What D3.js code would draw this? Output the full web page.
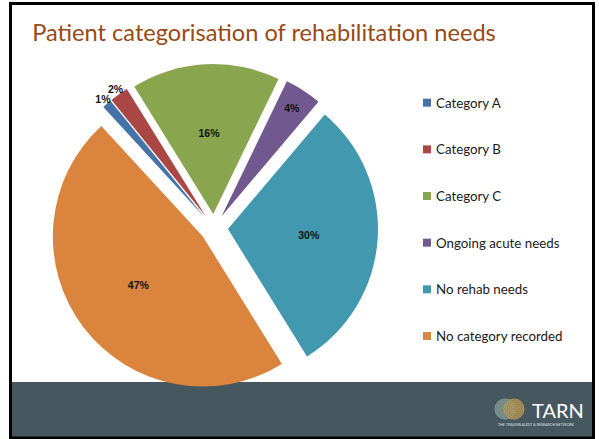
<!DOCTYPE html>
<html>
<head>
<meta charset="utf-8">
<script src="https://cdn.jsdelivr.net/npm/d3@7"></script>
<style>
  html, body { margin: 0; padding: 0; background: #ffffff; }
  svg { display: block; }
</style>
</head>
<body>
<svg id="chart" width="599" height="439"></svg>
<script>
const categories = ["Category A", "Category B", "Category C", "Ongoing acute needs", "No rehab needs", "No category recorded"];
const values = [1, 2, 16, 4, 30, 47];
const colors = ["#4572A7", "#AA4643", "#89A54E", "#71588F", "#4198AF", "#DB843D"];
const titleText = "Patient categorisation of rehabilitation needs";

const W = 599, H = 439;
const svg = d3.select("#chart");
const font = "Lato, 'Open Sans', 'Liberation Sans', sans-serif";

// slide background
svg.append("rect").attr("x", 0).attr("y", 0).attr("width", W).attr("height", H).attr("fill", "#ffffff");

// footer band
const footer = svg.append("g");
footer.append("rect").attr("x", 10.5).attr("y", 382).attr("width", 583).attr("height", 55).attr("fill", "#46575F");

// logo
const logo = footer.append("g");
const ringsL = [10, 8, 6, 4, 2];
logo.append("circle").attr("cx", 505).attr("cy", 409).attr("r", 10.5).attr("fill", "#6E8584");
logo.append("circle").attr("cx", 514).attr("cy", 409).attr("r", 10.5).attr("fill", "#9C8448").attr("opacity", 0.9);
ringsL.forEach(rr => {
  logo.append("circle").attr("cx", 505).attr("cy", 409).attr("r", rr).attr("fill", "none").attr("stroke", "#9fb3ae").attr("stroke-width", 0.5).attr("opacity", 0.7);
  logo.append("circle").attr("cx", 514).attr("cy", 409).attr("r", rr).attr("fill", "none").attr("stroke", "#d9bf77").attr("stroke-width", 0.5).attr("opacity", 0.7);
});
logo.append("text").attr("x", 532).attr("y", 417.5).attr("fill", "#ffffff")
  .attr("font-family", font).attr("font-size", 20).text("TARN");
logo.append("text").attr("x", 536).attr("y", 426).attr("fill", "#dfe5e6").attr("text-anchor", "middle")
  .attr("font-family", font).attr("font-size", 3.6).text("THE TRAUMA AUDIT & RESEARCH NETWORK");

// title
const title = svg.append("text").attr("x", 264).attr("y", 41).attr("text-anchor", "middle")
  .attr("fill", "#9A4A14").attr("font-family", font).attr("font-size", 26).text(titleText);
const tw = title.node().getComputedTextLength();
title.attr("font-size", 26 * 464 / tw);

// pie
const cx = 214, cy = 228, radius = 150, explode = 14;
const startDeg = -42.6;
const pie = d3.pie().sort(null)
  .startAngle(startDeg * Math.PI / 180)
  .endAngle(startDeg * Math.PI / 180 + 2 * Math.PI);
const arcs = pie(values);
const arc = d3.arc().innerRadius(0).outerRadius(radius);

const pg = svg.append("g").attr("transform", `translate(${cx},${cy})`);
const slices = pg.selectAll("g.slice").data(arcs).enter().append("g").attr("class", "slice")
  .attr("transform", d => {
    const a = (d.startAngle + d.endAngle) / 2;
    return `translate(${explode * Math.sin(a)},${-explode * Math.cos(a)})`;
  });
slices.append("path").attr("d", arc).attr("fill", (d, i) => colors[i]);

// labels
const total = d3.sum(values);
function labelRadius(v) {
  const p = v / total * 100;
  if (p < 3) return radius + explode + 6;
  if (p < 10) return radius * 0.86 + explode;
  return radius * 0.54 + explode;
}
pg.selectAll("text.lbl").data(arcs).enter().append("text").attr("class", "lbl")
  .attr("x", d => labelRadius(d.data) * Math.sin((d.startAngle + d.endAngle) / 2))
  .attr("y", d => -labelRadius(d.data) * Math.cos((d.startAngle + d.endAngle) / 2))
  .attr("text-anchor", "middle").attr("dominant-baseline", "central")
  .attr("font-family", "'Liberation Sans', Arial, sans-serif").attr("font-weight", "bold")
  .attr("font-size", 10.5).attr("fill", "#111111")
  .text(d => Math.round(d.data / total * 100) + "%");

// legend
const legY = d3.scalePoint().domain(categories).range([102.7, 336]);
const leg = svg.append("g");
const li = leg.selectAll("g").data(categories).enter().append("g")
  .attr("transform", d => `translate(423,${legY(d)})`);
li.append("rect").attr("x", 0).attr("y", -4).attr("width", 8).attr("height", 8).attr("fill", (d, i) => colors[i]);
li.append("text").attr("x", 13).attr("y", 0).attr("dominant-baseline", "central")
  .attr("font-family", font).attr("font-size", 13.3).attr("fill", "#1a1a1a").text(d => d);

// slide border
svg.append("rect").attr("x", 10.5).attr("y", 3.5).attr("width", 583).attr("height", 434.5)
  .attr("fill", "none").attr("stroke", "#000000").attr("stroke-width", 3);
</script>
</body>
</html>
